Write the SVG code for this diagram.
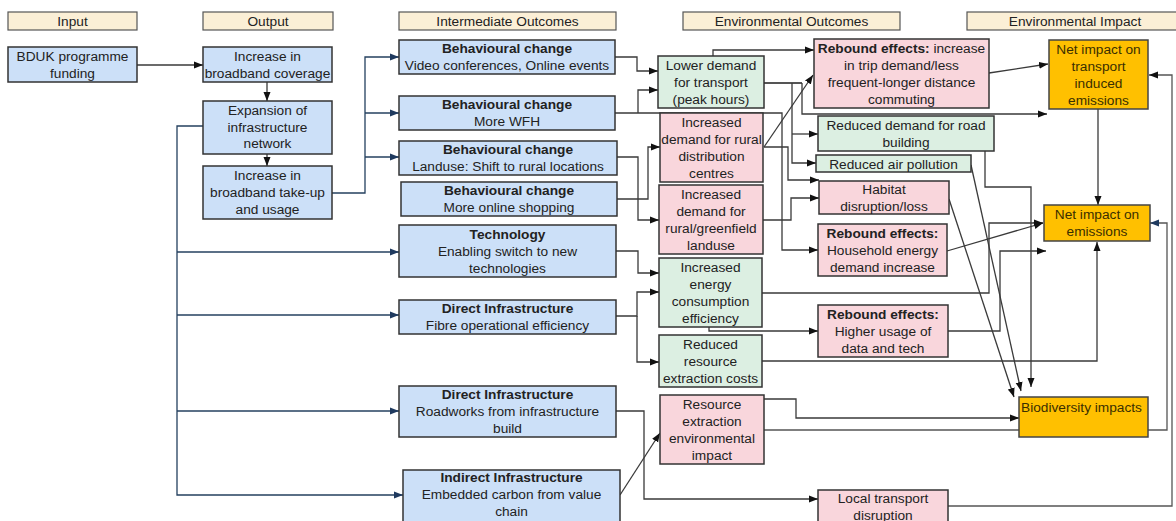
<svg xmlns="http://www.w3.org/2000/svg" width="1176" height="521" viewBox="0 0 1176 521">
<style>
text{font-family:"Liberation Sans",Arial,sans-serif;font-size:13.7px;fill:#222;text-anchor:middle}
.b{font-weight:bold}
.hdr{fill:#FBEFD6;stroke:#555;stroke-width:1.2}
.blue{fill:#CCE0F8;stroke:#333;stroke-width:1.5}
.green{fill:#DCEFE2;stroke:#333;stroke-width:1.5}
.pink{fill:#F9D6DC;stroke:#333;stroke-width:1.5}
.orange{fill:#FFC000;stroke:#444;stroke-width:1.5}
.ot{fill:#3a2f00}
.c{fill:none;stroke:#3a3a3a;stroke-width:1.3;marker-end:url(#a)}
.cn{fill:none;stroke:#24405F;stroke-width:1.3}
.cg{fill:none;stroke:#555;stroke-width:1.8}
.na{marker-end:url(#an)}
</style>
<defs>
<marker id="a" markerWidth="9" markerHeight="8" refX="9" refY="4" orient="auto" markerUnits="userSpaceOnUse"><path d="M0,0.5 L9,4 L0,7.5z" fill="#111"/></marker>
<marker id="an" markerWidth="9" markerHeight="8" refX="9" refY="4" orient="auto" markerUnits="userSpaceOnUse"><path d="M0,0.5 L9,4 L0,7.5z" fill="#1F3A5F"/></marker>
</defs>
<rect width="1176" height="521" fill="#fff"/>

<g id="headers">
<rect class="hdr" x="8" y="12" width="129" height="18"/><text x="72.5" y="26">Input</text>
<rect class="hdr" x="203" y="12" width="130" height="18"/><text x="268" y="26">Output</text>
<rect class="hdr" x="399" y="12" width="217" height="18"/><text x="507.5" y="26">Intermediate Outcomes</text>
<rect class="hdr" x="683" y="12" width="217" height="18"/><text x="791.5" y="26">Environmental Outcomes</text>
<rect class="hdr" x="967" y="12" width="217" height="18"/><text x="1075" y="26">Environmental Impact</text>
</g>

<g id="connectors">
<path class="c" d="M137,65 H203"/>
<path class="c" d="M267,82 V101"/>
<path class="c" d="M267,154 V166"/>
<path class="cn na" d="M332,193 H365 V57 H399"/>
<path class="cn na" d="M365,113 H399"/>
<path class="cn na" d="M365,157 H399"/>
<path class="cn na" d="M203,126 H177 V495 H403"/>
<path class="cn na" d="M177,252 H399"/>
<path class="cn na" d="M177,315 H399"/>
<path class="cn na" d="M177,411 H399"/>
<path class="c" d="M615,57 H637 V71 H658"/>
<path class="c" d="M638,113 V90 H658"/>
<path class="c" d="M615,113 H782 V250 H818"/>
<path class="c" d="M617,157 H638 V220 H659"/>
<path class="c" d="M617,199 H648 V147 H660"/>
<path class="c" d="M616,251 H638 V273 H659"/>
<path class="c" d="M616,316 H637 V292 H659"/>
<path class="c" d="M637,316 V362 H659"/>
<path class="c" d="M713,56 V50 H814"/>
<path class="cg" d="M764,83 H802"/>
<path class="c" d="M802,83 V114 H1047"/>
<path class="c" d="M792,83 V163 H816"/>
<path class="c" d="M792,134 H818"/>
<path class="c" d="M764,147 L813,75"/>
<path class="c" d="M764,147 H788 V180 H819"/>
<path class="c" d="M763,220 H791 V198 H819"/>
<path class="c" d="M762,293 H989 V223 H1043"/>
<path class="c" d="M709,327 V331 H818"/>
<path class="c" d="M947,251 L1043,223"/>
<path class="c" d="M948,331 H1000 V251 H1046"/>
<path class="c" d="M762,361 H1097 V242"/>
<path class="c" d="M1098,109 V205"/>
<path class="c" d="M985,151 V187 H1031 V387"/>
<path class="c" d="M971,165 L1021,391"/>
<path class="c" d="M949,199 L1014,397"/>
<path class="c" d="M764,399 H796 V418 H1019"/>
<path class="cn na" d="M764,430 H1167 V223 H1150" style="stroke:#555"/>
<path class="c" d="M948,506 H1172 V75 H1149" style="stroke:#555"/>
<path class="c" d="M616,411 H644 V499 H818"/>
<path class="c" d="M620,495 L660,433"/>
<path class="c" d="M989,73 L1048,64"/>
</g>

<g id="n-bduk"><rect class="blue" x="8" y="47" width="129" height="35"/><text x="72.5" y="61">BDUK programme</text><text x="72.5" y="78">funding</text></g>
<g id="n-coverage"><rect class="blue" x="203" y="47" width="129" height="35"/><text x="267.5" y="61">Increase in</text><text x="267.5" y="78">broadband coverage</text></g>
<g id="n-expansion"><rect class="blue" x="203" y="101" width="129" height="53"/><text x="267.5" y="115">Expansion of</text><text x="267.5" y="131.5">infrastructure</text><text x="267.5" y="148">network</text></g>
<g id="n-takeup"><rect class="blue" x="203" y="166" width="129" height="53"/><text x="267.5" y="180">Increase in</text><text x="267.5" y="197">broadband take-up</text><text x="267.5" y="214">and usage</text></g>

<g id="n-beh1"><rect class="blue" x="399" y="40" width="216" height="34"/><text class="b" x="507" y="53">Behavioural change</text><text x="507" y="70">Video conferences, Online events</text></g>
<g id="n-beh2"><rect class="blue" x="399" y="96" width="216" height="34"/><text class="b" x="507" y="109">Behavioural change</text><text x="507" y="126">More WFH</text></g>
<g id="n-beh3"><rect class="blue" x="399" y="141" width="218" height="34"/><text class="b" x="508" y="154">Behavioural change</text><text x="508" y="171">Landuse: Shift to rural locations</text></g>
<g id="n-beh4"><rect class="blue" x="401" y="182" width="216" height="34"/><text class="b" x="509" y="195">Behavioural change</text><text x="509" y="212">More online shopping</text></g>
<g id="n-tech"><rect class="blue" x="399" y="225" width="217" height="52"/><text class="b" x="507.5" y="238.5">Technology</text><text x="507.5" y="255.5">Enabling switch to new</text><text x="507.5" y="272.5">technologies</text></g>
<g id="n-fibre"><rect class="blue" x="399" y="300" width="217" height="34"/><text class="b" x="507.5" y="313">Direct Infrastructure</text><text x="507.5" y="330">Fibre operational efficiency</text></g>
<g id="n-roadworks"><rect class="blue" x="399" y="386" width="217" height="51"/><text class="b" x="507.5" y="399">Direct Infrastructure</text><text x="507.5" y="416">Roadworks from infrastructure</text><text x="507.5" y="433">build</text></g>
<g id="n-indirect"><rect class="blue" x="403" y="470" width="217" height="53"/><text class="b" x="511.5" y="482">Indirect Infrastructure</text><text x="511.5" y="499">Embedded carbon from value</text><text x="511.5" y="516">chain</text></g>

<g id="n-lower"><rect class="green" x="658" y="56" width="106" height="52"/><text x="711" y="69.5">Lower demand</text><text x="711" y="86.5">for transport</text><text x="711" y="103.5">(peak hours)</text></g>
<g id="n-distribution"><rect class="pink" x="660" y="113" width="103" height="69"/><text x="711.5" y="126.5">Increased</text><text x="711.5" y="143.5">demand for rural</text><text x="711.5" y="160.5">distribution</text><text x="711.5" y="177.5">centres</text></g>
<g id="n-greenfield"><rect class="pink" x="659" y="185" width="104" height="69"/><text x="711" y="198.5">Increased</text><text x="711" y="215.5">demand for</text><text x="711" y="232.5">rural/greenfield</text><text x="711" y="249.5">landuse</text></g>
<g id="n-energyeff"><rect class="green" x="659" y="258" width="103" height="69"/><text x="710.5" y="271.5">Increased</text><text x="710.5" y="288.5">energy</text><text x="710.5" y="305.5">consumption</text><text x="710.5" y="322.5">efficiency</text></g>
<g id="n-rescost"><rect class="green" x="659" y="335" width="103" height="52"/><text x="710.5" y="348.5">Reduced</text><text x="710.5" y="365.5">resource</text><text x="710.5" y="382.5">extraction costs</text></g>
<g id="n-resenv"><rect class="pink" x="660" y="395" width="104" height="69"/><text x="712" y="408.5">Resource</text><text x="712" y="425.5">extraction</text><text x="712" y="442.5">environmental</text><text x="712" y="459.5">impact</text></g>

<g id="n-reboundtrip"><rect class="pink" x="814" y="39" width="175" height="69"/><text x="901.5" y="52.5"><tspan class="b">Rebound effects:</tspan> increase</text><text x="901.5" y="69.5">in trip demand/less</text><text x="901.5" y="86.5">frequent-longer distance</text><text x="901.5" y="103.5">commuting</text></g>
<g id="n-road"><rect class="green" x="818" y="116" width="176" height="35"/><text x="906" y="129.5">Reduced demand for road</text><text x="906" y="146.5">building</text></g>
<g id="n-air"><rect class="green" x="816" y="155" width="155" height="17"/><text x="893.5" y="168.5">Reduced air pollution</text></g>
<g id="n-habitat"><rect class="pink" x="819" y="181" width="130" height="33"/><text x="884" y="193.5">Habitat</text><text x="884" y="210.5">disruption/loss</text></g>
<g id="n-household"><rect class="pink" x="818" y="224" width="129" height="52"/><text class="b" x="882.5" y="237.5">Rebound effects:</text><text x="882.5" y="254.5">Household energy</text><text x="882.5" y="271.5">demand increase</text></g>
<g id="n-higherusage"><rect class="pink" x="818" y="305" width="130" height="52"/><text class="b" x="883" y="318.5">Rebound effects:</text><text x="883" y="335.5">Higher usage of</text><text x="883" y="352.5">data and tech</text></g>
<g id="n-localtransport"><rect class="pink" x="818" y="490" width="130" height="36"/><text x="883" y="502.5">Local transport</text><text x="883" y="519.5">disruption</text></g>

<g id="n-nettransport"><rect class="orange" x="1049" y="40" width="99" height="69"/><text class="ot" x="1098.5" y="53.5">Net impact on</text><text class="ot" x="1098.5" y="70.5">transport</text><text class="ot" x="1098.5" y="87.5">induced</text><text class="ot" x="1098.5" y="104.5">emissions</text></g>
<g id="n-netemissions"><rect class="orange" x="1044" y="205" width="106" height="36"/><text class="ot" x="1097" y="219">Net impact on</text><text class="ot" x="1097" y="236">emissions</text></g>
<g id="n-biodiversity"><rect class="orange" x="1019" y="397" width="129" height="40"/><text class="ot" x="1021" y="412" style="text-anchor:start">Biodiversity impacts</text></g>
</svg>
